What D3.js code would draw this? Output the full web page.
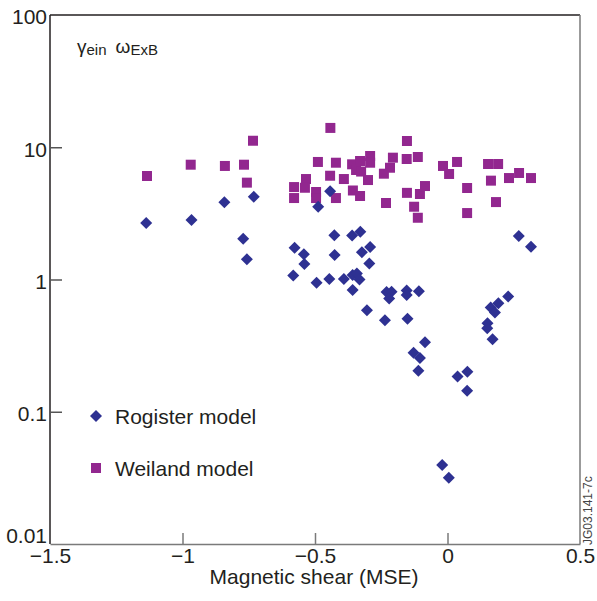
<!DOCTYPE html>
<html>
<head>
<meta charset="utf-8">
<script src="https://cdn.jsdelivr.net/npm/d3@7"></script>
<style>
  body { margin: 0; background: #fff; }
  svg { display: block; font-family: "Liberation Sans", Arial, Helvetica, sans-serif; }
</style>
</head>
<body>
<div id="chart"></div>
<script>
// magnetic shear (MSE) and growth rate, Rogister model
const rogisterShear = [-1.137, -0.966, -0.842, -0.731, -0.771, -0.757, -0.443, -0.488, -0.577, -0.542,
    -0.540, -0.582, -0.494, -0.446, -0.391, -0.427, -0.426, -0.360, -0.329, -0.323,
    -0.292, -0.295, -0.358, -0.342, -0.332, -0.358, -0.230, -0.211, -0.220, -0.154,
    -0.154, -0.108, -0.304, -0.236, -0.151, -0.085, -0.128, -0.104, -0.110, 0.038,
    0.075, 0.074, -0.020, 0.005, 0.229, 0.192, 0.163, 0.179, 0.151, 0.150,
    0.170, 0.269, 0.315]
const rogisterGamma = [2.67, 2.82, 3.83, 4.23, 2.03, 1.42, 4.64, 3.55, 1.74, 1.55,
    1.31, 1.07, 0.946, 1.01, 1.01, 2.16, 1.53, 2.15, 2.30, 1.61,
    1.76, 1.32, 1.08, 1.11, 1.00, 0.833, 0.804, 0.807, 0.718, 0.826,
    0.764, 0.816, 0.585, 0.492, 0.504, 0.335, 0.279, 0.255, 0.204, 0.185,
    0.201, 0.144, 0.0396, 0.0317, 0.744, 0.661, 0.614, 0.563, 0.467, 0.428,
    0.354, 2.13, 1.77]

// Weiland model
const weilandShear = [-1.134, -0.969, -0.840, -0.768, -0.734, -0.757, -0.442, -0.153, -0.489, -0.421,
    -0.360, -0.330, -0.292, -0.292, -0.345, -0.326, -0.206, -0.217, -0.154, -0.112,
    -0.443, -0.391, -0.534, -0.538, -0.579, -0.579, -0.496, -0.496, -0.421, -0.300,
    -0.357, -0.330, -0.240, -0.232, -0.153, -0.126, -0.112, -0.104, -0.085, -0.017,
    0.036, 0.006, 0.153, 0.191, 0.164, 0.232, 0.270, 0.315, 0.074, 0.183,
    0.074]
const weilandGamma = [6.06, 7.38, 7.22, 7.38, 11.2, 5.40, 14.0, 11.15, 7.74, 7.64,
    7.43, 7.87, 8.59, 7.64, 6.73, 6.55, 8.34, 7.00, 8.15, 8.44,
    6.09, 5.75, 5.75, 4.94, 5.00, 4.13, 4.59, 4.13, 4.13, 5.65,
    4.71, 4.28, 6.31, 3.79, 4.52, 3.55, 2.93, 4.43, 5.09, 7.22,
    7.74, 6.28, 7.47, 7.47, 5.59, 5.85, 6.39, 5.85, 4.92, 3.85,
    3.18]

const xTickValues = [-1.5, -1, -0.5, 0, 0.5]
const xTickLabels = ["\u22121.5", "\u22121", "\u22120.5", "0", "0.5"]
const yTickValues = [0.01, 0.1, 1, 10, 100]
const yTickLabels = ["0.01", "0.1", "1", "10", "100"]

const seriesNames = ["Rogister model", "Weiland model"]

function drawShearChart() {
    const rogister = rogisterShear.map((s, i) => ({ x: s, y: rogisterGamma[i] }))
    const weiland = weilandShear.map((s, i) => ({ x: s, y: weilandGamma[i] }))
    const xAccessor = d => d.x
    const yAccessor = d => d.y

    // dimensions
    let dimensions = {
        width: 597,
        height: 601,
        margin: { top: 15, right: 17, bottom: 57, left: 50 }
    }
    dimensions.boundedWidth = dimensions.width - dimensions.margin.left - dimensions.margin.right
    dimensions.boundedHeight = dimensions.height - dimensions.margin.top - dimensions.margin.bottom

    const wrapper = d3.select("#chart")
        .append("svg")
        .attr("width", dimensions.width)
        .attr("height", dimensions.height)

    const bounds = wrapper.append("g")
        .attr("transform", `translate(${dimensions.margin.left},${dimensions.margin.top})`)

    // scales
    const xScale = d3.scaleLinear()
        .domain([-1.5, 0.5])
        .range([0, dimensions.boundedWidth])

    const yScale = d3.scaleLog()
        .domain([0.01, 100])
        .range([dimensions.boundedHeight, 0])

    const blue = "#2e3192"
    const purple = "#92278f"
    const fontSize = "21px"

    // frame: left/top dark, bottom/right grey
    bounds.append("line")
        .attr("x1", 0).attr("x2", 0)
        .attr("y1", 0).attr("y2", dimensions.boundedHeight)
        .attr("stroke", "#231f20").attr("stroke-width", 1.5)
    bounds.append("line")
        .attr("x1", 0).attr("x2", dimensions.boundedWidth)
        .attr("y1", 0).attr("y2", 0)
        .attr("stroke", "#231f20").attr("stroke-width", 1.5)
    bounds.append("line")
        .attr("x1", dimensions.boundedWidth).attr("x2", dimensions.boundedWidth)
        .attr("y1", 0).attr("y2", dimensions.boundedHeight)
        .attr("stroke", "#7a7a7a").attr("stroke-width", 1.5)

    // axes
    const xAxisGenerator = d3.axisBottom(xScale)
        .tickValues(xTickValues)
        .tickFormat((d, i) => xTickLabels[i])
        .tickSizeInner(-11)
        .tickSizeOuter(0)
        .tickPadding(4)

    const xAxis = bounds.append("g")
        .attr("transform", `translate(0,${dimensions.boundedHeight})`)
        .call(xAxisGenerator)
    xAxis.select(".domain").attr("stroke", "#7a7a7a").attr("stroke-width", 1.5)
    xAxis.selectAll(".tick line").attr("stroke", "#7a7a7a").attr("stroke-width", 1.5)
        .attr("opacity", (d, i) => (i === 0 || i === xTickValues.length - 1) ? 0 : 1)
    xAxis.selectAll(".tick text")
        .attr("fill", "#231f20")
        .style("font-size", fontSize)
        .style("font-family", "'Liberation Sans', Arial, sans-serif")

    const yAxisGenerator = d3.axisLeft(yScale)
        .tickValues(yTickValues)
        .tickFormat((d, i) => yTickLabels[i])
        .tickSizeInner(-12)
        .tickSizeOuter(0)
        .tickPadding(4)

    const yAxis = bounds.append("g")
        .call(yAxisGenerator)
    yAxis.select(".domain").remove()
    yAxis.selectAll(".tick line").attr("stroke", "#555").attr("stroke-width", 1.5)
        .attr("opacity", (d, i) => (i === 0 || i === yTickValues.length - 1) ? 0 : 1)
    yAxis.selectAll(".tick text")
        .attr("fill", "#231f20")
        .attr("x", -3)
        .attr("dy", (d, i) => i === 0 ? "-0.05em" : "0.42em")
        .style("font-size", fontSize)
        .style("font-family", "'Liberation Sans', Arial, sans-serif")

    bounds.append("text")
        .attr("x", dimensions.boundedWidth / 2 - 1)
        .attr("y", dimensions.boundedHeight + 40)
        .attr("text-anchor", "middle")
        .attr("fill", "#231f20")
        .style("font-size", fontSize)
        .text("Magnetic shear (MSE)")

    // data
    bounds.append("g").selectAll("path")
        .data(weiland).join("path")
        .attr("d", d3.symbol(d3.symbolSquare, 100))
        .attr("transform", d => `translate(${xScale(xAccessor(d))},${yScale(yAccessor(d))})`)
        .attr("fill", purple)

    bounds.append("g").selectAll("path")
        .data(rogister).join("path")
        .attr("d", d3.symbol(d3.symbolSquare, 72))
        .attr("transform", d => `translate(${xScale(xAccessor(d))},${yScale(yAccessor(d))}) rotate(45)`)
        .attr("fill", blue)

    // label in top-left
    const lab = bounds.append("text")
        .attr("x", 27)
        .attr("y", 38)
        .attr("fill", "#231f20")
        .style("font-size", "19px")
    lab.append("tspan").text("\u03b3")
    lab.append("tspan").attr("dy", 2).style("font-size", "15px").text("ein")
    lab.append("tspan").attr("dx", 9).attr("dy", -2).text("\u03c9")
    lab.append("tspan").attr("dy", 2).style("font-size", "15px").text("ExB")

    // legend
    const legend = [
        { name: seriesNames[0], color: blue, shape: "diamond" },
        { name: seriesNames[1], color: purple, shape: "square" }
    ]
    const legendGroup = bounds.append("g")
        .attr("transform", `translate(46,401)`)
    const items = legendGroup.selectAll("g")
        .data(legend).join("g")
        .attr("transform", (d, i) => `translate(0,${i * 52})`)
    items.append("path")
        .attr("d", d => d.shape === "diamond" ? d3.symbol(d3.symbolSquare, 72)() : d3.symbol(d3.symbolSquare, 100)())
        .attr("transform", d => d.shape === "diamond" ? "rotate(45)" : null)
        .attr("fill", d => d.color)
    items.append("text")
        .attr("x", 19)
        .attr("y", 8)
        .attr("fill", "#231f20")
        .style("font-size", fontSize)
        .text(d => d.name)

    // figure id
    wrapper.append("text")
        .attr("transform", `translate(592,545) rotate(-90)`)
        .attr("fill", "#444")
        .style("font-size", "12px")
        .text("JG03.141-7c")
}

drawShearChart()
</script>
</body>
</html>
